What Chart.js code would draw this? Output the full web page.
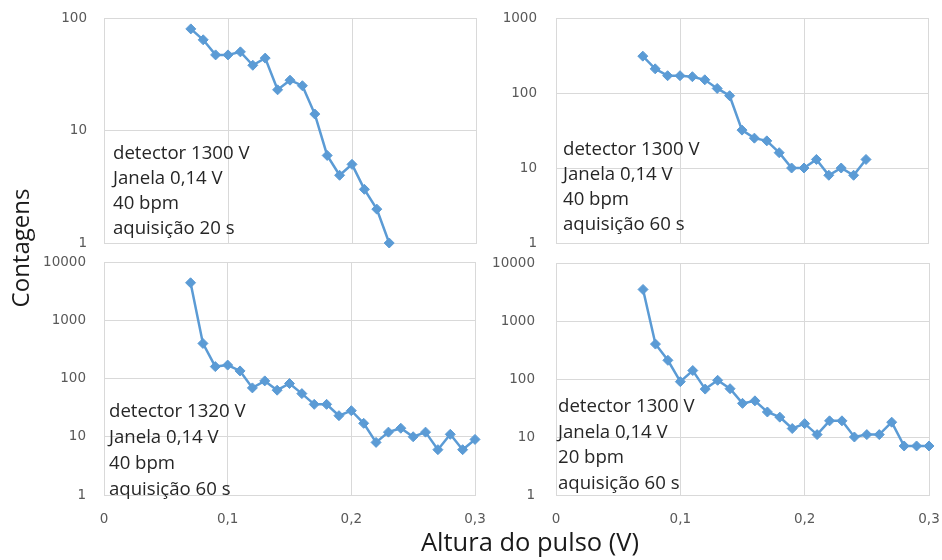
<!DOCTYPE html>
<html>
<head>
<meta charset="utf-8">
<script src="https://cdn.jsdelivr.net/npm/chart.js@4.4.1/dist/chart.umd.min.js"></script>
<style>
  html, body { margin: 0; padding: 0; background: #ffffff; }
  #wrap { position: relative; width: 942px; height: 560px; overflow: hidden; background: #fff; }
  canvas { position: absolute; }
  .note { position: absolute; font-family: "Open Sans", sans-serif; font-size: 18.6px; color: #262626; white-space: nowrap; }
  .title { position: absolute; font-family: "Open Sans", sans-serif; color: #1a1a1a; white-space: nowrap; text-align: center; }
</style>
</head>
<body>
<div id="wrap">
  <canvas id="cTL" width="490" height="256" style="left:0px;top:0px;"></canvas>
  <canvas id="cTR" width="452" height="256" style="left:490px;top:0px;"></canvas>
  <canvas id="cBL" width="490" height="280" style="left:0px;top:250px;"></canvas>
  <canvas id="cBR" width="452" height="280" style="left:490px;top:250px;"></canvas>

  <div class="note" style="left:113px;top:139px;line-height:25px;">detector 1300 V<br>Janela 0,14 V<br>40 bpm<br>aquisição 20 s</div>
  <div class="note" style="left:563px;top:135px;line-height:25px;">detector 1300 V<br>Janela 0,14 V<br>40 bpm<br>aquisição 60 s</div>
  <div class="note" style="left:109px;top:397px;line-height:26px;">detector 1320 V<br>Janela 0,14 V<br>40 bpm<br>aquisição 60 s</div>
  <div class="note" style="left:558px;top:392px;line-height:25.7px;">detector 1300 V<br>Janela 0,14 V<br>20 bpm<br>aquisição 60 s</div>

  <div class="title" style="left:330px;top:526px;width:400px;line-height:30px;font-size:25.5px;">Altura do pulso (V)</div>
  <div class="title" style="left:-80px;top:233px;width:200px;line-height:30px;font-size:24px;transform:rotate(-90deg);">Contagens</div>
</div>
<script>
// ---------------- DATA ----------------
const xTopLeft = [0.07, 0.08, 0.09, 0.10, 0.11, 0.12, 0.13, 0.14, 0.15, 0.16, 0.17, 0.18, 0.19, 0.20, 0.21, 0.22, 0.23];
const countsTopLeft = [80, 64, 47, 47, 50, 38, 44, 23, 28, 25, 14, 6, 4, 5, 3, 2, 1];

const xTopRight = [0.07, 0.08, 0.09, 0.10, 0.11, 0.12, 0.13, 0.14, 0.15, 0.16, 0.17, 0.18, 0.19, 0.20, 0.21, 0.22, 0.23, 0.24, 0.25];
const countsTopRight = [310, 210, 170, 170, 165, 150, 115, 92, 32, 25, 23, 16, 10, 10, 13, 8, 10, 8, 13];

const xBottomLeft = [0.07, 0.08, 0.09, 0.10, 0.11, 0.12, 0.13, 0.14, 0.15, 0.16, 0.17, 0.18, 0.19, 0.20, 0.21, 0.22, 0.23, 0.24, 0.25, 0.26, 0.27, 0.28, 0.29, 0.30];
const countsBottomLeft = [4400, 400, 160, 170, 135, 69, 91, 63, 82, 55, 36, 36, 23, 28, 17, 8, 12, 14, 10, 12, 6, 11, 6, 9];

const xBottomRight = [0.07, 0.08, 0.09, 0.10, 0.11, 0.12, 0.13, 0.14, 0.15, 0.16, 0.17, 0.18, 0.19, 0.20, 0.21, 0.22, 0.23, 0.24, 0.25, 0.26, 0.27, 0.28, 0.29, 0.30];
const countsBottomRight = [3500, 400, 210, 90, 140, 67, 95, 68, 38, 42, 27, 22, 14, 17, 11, 19, 19, 10, 11, 11, 18, 7, 7, 7];

const yTicksTopLeft = [1, 10, 100];
const yTicksTopRight = [1, 10, 100, 1000];
const yTicksBottom = [1, 10, 100, 1000, 10000];
const xTickValues = [0, 0.1, 0.2, 0.3];
const xTickLabels = ['0', '0,1', '0,2', '0,3'];

// ---------------- STYLE ----------------
const LINE = '#5b9bd5';
const GRID = '#d9d9d9';
const TICK = '#595959';
const tickFont = { family: 'DejaVu Sans', size: 13.5 };

function makeChart(id, xs, ys, yTicks, opts) {
  const points = xs.map((x, i) => ({ x: x, y: ys[i] }));
  return new Chart(document.getElementById(id), {
    type: 'line',
    data: {
      datasets: [{
        data: points,
        borderColor: LINE,
        backgroundColor: LINE,
        borderWidth: 2.5,
        pointStyle: 'rectRot',
        pointRadius: 5,
        pointBorderWidth: 1,
        pointBackgroundColor: LINE,
        pointBorderColor: LINE,
        tension: 0,
        clip: false
      }]
    },
    options: {
      responsive: false,
      animation: false,
      devicePixelRatio: 1,
      layout: { padding: opts.padding },
      plugins: { legend: { display: false }, tooltip: { enabled: false } },
      scales: {
        x: {
          type: 'linear',
          min: 0,
          max: 0.3,
          afterBuildTicks: (s) => { s.ticks = xTickValues.map(v => ({ value: v })); },
          afterFit: (s) => { s.height = opts.xHeight; s.paddingLeft = 0; s.paddingRight = 0; s.paddingTop = 0; s.paddingBottom = 0; },
          grid: { color: GRID, lineWidth: 1, drawTicks: false },
          border: { color: GRID, width: 1 },
          ticks: {
            display: opts.showX,
            padding: 16,
            color: TICK,
            font: tickFont,
            maxRotation: 0,
            callback: (v, i) => xTickLabels[i]
          }
        },
        y: {
          type: 'logarithmic',
          min: yTicks[0],
          max: yTicks[yTicks.length - 1],
          afterBuildTicks: (s) => { s.ticks = yTicks.map(v => ({ value: v })); },
          afterFit: (s) => { s.width = opts.yWidth; s.paddingTop = 0; s.paddingBottom = 0; s.paddingLeft = 0; s.paddingRight = 0; },
          grid: { color: GRID, lineWidth: 1, drawTicks: false },
          border: { color: GRID, width: 1 },
          ticks: {
            padding: opts.yPad,
            color: TICK,
            font: tickFont,
            callback: (v) => String(v)
          }
        }
      }
    }
  });
}

makeChart('cTL', xTopLeft, countsTopLeft, yTicksTopLeft,
  { padding: { left: 0, right: 14, top: 18, bottom: 13 }, xHeight: 0, showX: false, yWidth: 104, yPad: 17 });
makeChart('cTR', xTopRight, countsTopRight, yTicksTopRight,
  { padding: { left: 0, right: 14, top: 18, bottom: 13 }, xHeight: 0, showX: false, yWidth: 66, yPad: 19 });
makeChart('cBL', xBottomLeft, countsBottomLeft, yTicksBottom,
  { padding: { left: 0, right: 15, top: 12, bottom: 5 }, xHeight: 30, showX: true, yWidth: 104, yPad: 18 });
makeChart('cBR', xBottomRight, countsBottomRight, yTicksBottom,
  { padding: { left: 0, right: 13, top: 13, bottom: 5 }, xHeight: 30, showX: true, yWidth: 66, yPad: 21 });
</script>
</body>
</html>
